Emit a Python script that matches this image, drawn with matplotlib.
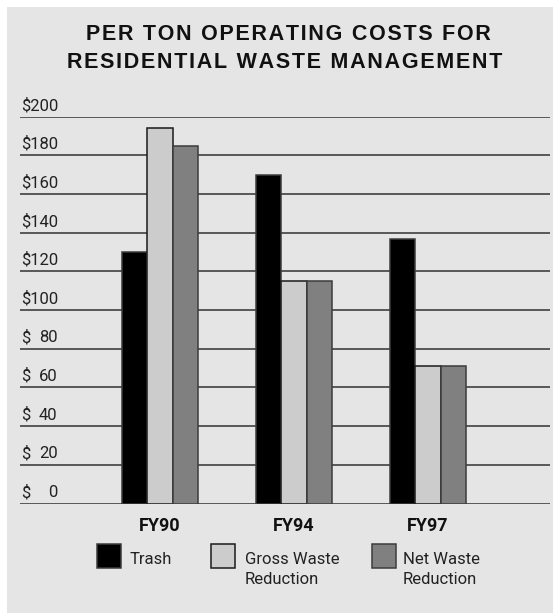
import matplotlib
matplotlib.use("Agg")
import matplotlib.pyplot as plt
from matplotlib.patches import Rectangle
import numpy as np

# data
years = ["FY90", "FY94", "FY97"]
series = ["Trash", "Gross Waste\nReduction", "Net Waste\nReduction"]
trash = [130, 170, 137]
gross = [194, 115, 71]
net = [185, 115, 71]
ticks = [0, 20, 40, 60, 80, 100, 120, 140, 160, 180, 200]

colors = ["#000000", "#cccccc", "#808080"]
edges = ["#3c3c3c", "#1a1a1a", "#3c3c3c"]
bg = "#e5e5e5"
sans = ["Roboto", "DejaVu Sans"]

W, H = 553, 613
def fx(px):
    return px / W
def fy(py):
    return 1 - py / H

fig = plt.figure(figsize=(W / 100, H / 100), dpi=100)
fig.patch.set_facecolor("white")
fig.patches.append(Rectangle((fx(7), 0), 1, fy(7), transform=fig.transFigure,
                             facecolor=bg, edgecolor="none", zorder=-10))

# title, letter spaced
def spaced(s):
    return "\u200a".join(s)

fig.text(fx(288), fy(34), spaced("PER TON OPERATING COSTS FOR"), ha="center", va="center",
         fontsize=15.5, fontweight="bold", family=["Liberation Sans", "DejaVu Sans"], color="#111111")
fig.text(fx(285), fy(63), spaced("RESIDENTIAL WASTE MANAGEMENT"), ha="center", va="center",
         fontsize=15.5, fontweight="bold", family=["Liberation Sans", "DejaVu Sans"], color="#111111")

ax = fig.add_axes([fx(20), fy(503.5), fx(550) - fx(20), fy(116.7) - fy(503.5)])
ax.set_facecolor("none")
for s in ax.spines.values():
    s.set_visible(False)

x = np.arange(len(years))
w = 0.187
for i, (vals, c, e) in enumerate(zip([trash, gross, net], colors, edges)):
    ax.bar(x + (i - 1) * w, vals, width=w, color=c, edgecolor=e, linewidth=1.1, zorder=3)

for t in ticks:
    ax.axhline(t, color="#404040", linewidth=1.2, zorder=1)
    if t >= 100:
        ax.annotate("$" + str(t), xy=(0, t), xycoords=("axes fraction", "data"), xytext=(1, 2.5),
                    textcoords="offset points", ha="left", va="bottom", fontsize=12,
                    family=sans, color="#222222")
    else:
        # dollar sign on the left, figures lined up on the right
        ax.annotate("$", xy=(0, t), xycoords=("axes fraction", "data"), xytext=(1, 2.5),
                    textcoords="offset points", ha="left", va="bottom", fontsize=12,
                    family=sans, color="#222222")
        ax.annotate(str(t), xy=(0, t), xycoords=("axes fraction", "data"), xytext=(27, 2.5),
                    textcoords="offset points", ha="right", va="bottom", fontsize=12,
                    family=sans, color="#222222")

for xi, lab in zip(x, years):
    ax.annotate(lab, xy=(xi, 0), xycoords="data", xytext=(0, -16.3), textcoords="offset points",
                ha="center", va="center", fontsize=13, fontweight="bold", family=sans,
                color="#111111")

ax.set_xlim((20 - 160) / 134, (550 - 160) / 134)
ax.set_ylim(0, 200)
ax.set_xticks([])
ax.set_yticks([])

# legend drawn by hand
box_x = [97, 211, 372]
text_x = [130, 245, 403]
for bx, tx, lab, c, e in zip(box_x, text_x, series, colors, edges):
    fig.patches.append(Rectangle((fx(bx), fy(567.5)), fx(24), 24 / H, transform=fig.transFigure,
                                 facecolor=c, edgecolor=e, linewidth=1.1, zorder=3))
    fig.text(fx(tx), fy(552), lab, ha="left", va="top", fontsize=12, family=sans,
             color="#222222", linespacing=1.45)

fig.savefig("out.png", dpi=100, facecolor=fig.get_facecolor())
